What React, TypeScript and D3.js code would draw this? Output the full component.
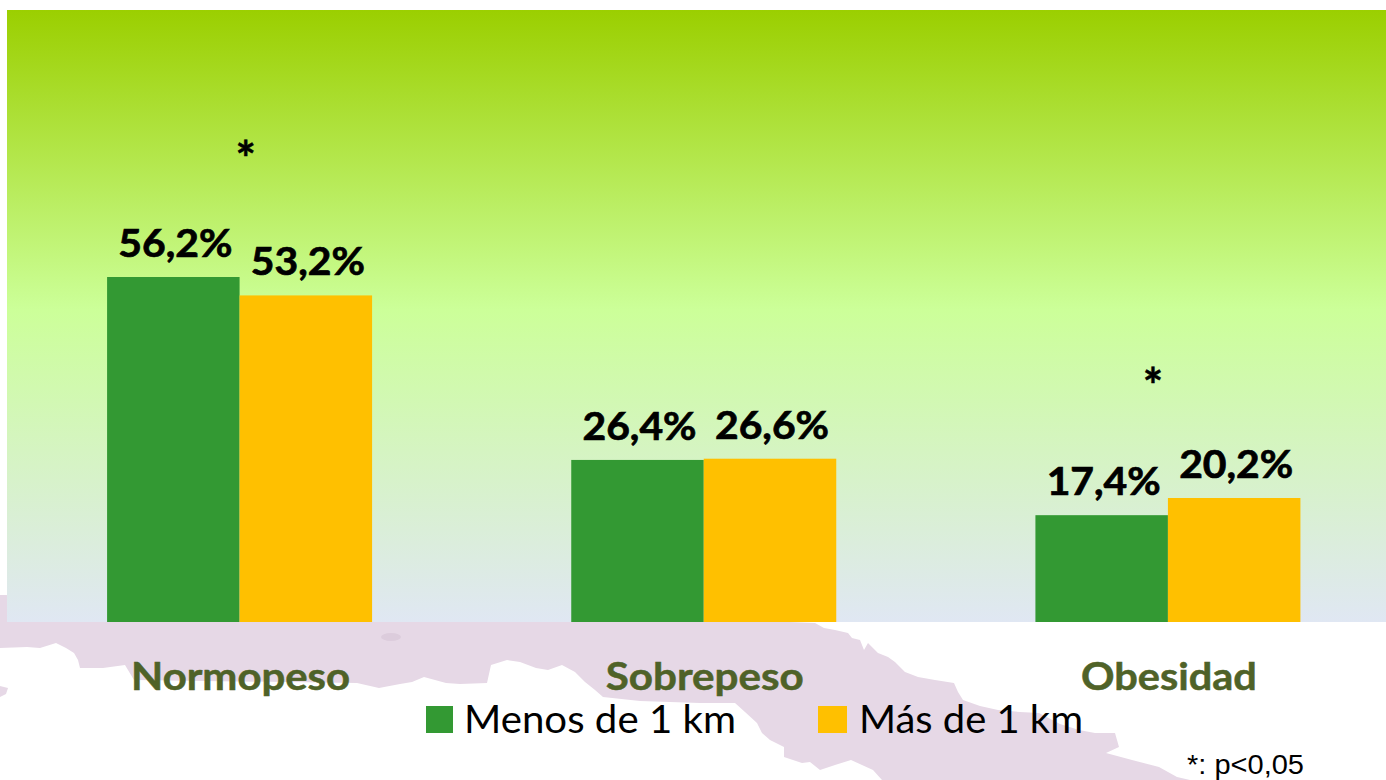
import React from "react";
import * as d3 from "d3";

const categories = ["Normopeso", "Sobrepeso", "Obesidad"];
const seriesNames = ["Menos de 1 km", "Más de 1 km"];
const menosDe1Km = [56.2, 26.4, 17.4];
const masDe1Km = [53.2, 26.6, 20.2];
const significant = [true, false, true];
const seriesColors = ["#339933", "#FFC000"];

const W = 1386;
const H = 780;
const baseY = 622;
const font = "Lato, Carlito, Calibri, sans-serif";

// Decorative map silhouette behind the chart (background artwork, not data)
const mapOutline: [number, number][] = [
  [0, 595], [771, 600], [771, 622], [790, 622], [815, 623], [824, 628], [835, 630], [848, 633], [852, 638], [860, 640], [864, 650], [868, 643], [878, 653],
  [888, 657], [895, 662], [905, 672], [918, 677], [935, 680], [954, 683], [958, 692], [963, 700], [980, 706], [998, 710], [1020, 712], [1039, 713],
  [1060, 724], [1079, 730], [1095, 733], [1115, 733], [1119, 747], [1106, 753], [1132, 760], [1159, 767], [1177, 777], [1190, 780],
  [882, 780], [873, 770], [851, 760], [835, 765], [820, 770], [810, 762], [802, 763], [784, 757], [784, 747], [770, 740], [762, 733], [757, 723], [745, 712], [735, 703],
  [700, 703], [640, 701], [603, 697], [595, 690], [585, 682], [575, 672], [562, 665], [548, 670], [536, 668], [520, 662], [507, 660], [491, 665],
  [487, 683], [460, 684], [446, 683], [435, 680], [424, 677], [412, 682], [400, 684], [379, 688], [357, 683], [134, 680], [125, 665], [103, 668],
  [80, 668], [78, 660], [74, 653], [66, 648], [56, 643], [40, 648], [27, 647], [0, 648],
];
const mapIslet: [number, number][] = [[0, 686], [8, 688], [6, 694], [0, 697]];

export default function App() {
  const x0 = d3.scaleBand<string>().domain(categories).range([7.5, 1400]).paddingInner(0).paddingOuter(0);
  const groupW = 265;
  const x1 = d3.scaleBand<number>().domain([0, 1]).range([0, groupW]);
  const y = d3.scaleLinear().domain([0, 56.2]).range([baseY, 277]);
  const line = d3.line();
  const values = [menosDe1Km, masDe1Km];
  const fmt = (v: number) => v.toFixed(1).replace(".", ",") + "%";
  const groupX = (c: string) => (x0(c) as number) + (x0.bandwidth() - groupW) / 2;
  const catWidths = [219, 198, 176];
  const legendX = [426, 818];
  const legendSw = [27, 29];
  const legendTextX = [464, 859];
  const legendTextW = [272, 224];
  const starDx = [6, 0, -15];
  const starDy = [101, 0, 95];

  return (
    <svg width={W} height={H} viewBox={`0 0 ${W} ${H}`} style={{ position: "absolute", left: 0, top: 0, display: "block", background: "#fff" }}>
      <defs>
        <linearGradient id="bg" x1="0" y1="0" x2="0" y2="1">
          <stop offset="0" stopColor="#9BCF00" />
          <stop offset="0.49" stopColor="#CCFF99" />
          <stop offset="1" stopColor="#E0E7F3" />
        </linearGradient>
      </defs>
      <path d={(line(mapOutline) as string) + "Z"} fill="#E6D8E6" />
      <path d={(line(mapIslet) as string) + "Z"} fill="#E6D8E6" />
      <ellipse cx={391} cy={637} rx={10} ry={4} fill="#DCCCDC" />
      <rect x={7} y={10} width={W - 7} height={baseY - 10} fill="url(#bg)" />

      {categories.map((c, i) => (
        <g key={c}>
          {values.map((vals, s) => {
            const bx = groupX(c) + (x1(s) as number);
            return (
              <g key={s}>
                <rect x={bx} y={y(vals[i])} width={x1.bandwidth()} height={baseY - y(vals[i])} fill={seriesColors[s]} />
                <text x={bx + x1.bandwidth() / 2 + 2} y={y(vals[i]) - 20} textAnchor="middle" textLength={114} lengthAdjust="spacingAndGlyphs"
                  fontFamily={font} fontWeight={700} fontSize={38} fill="#000" stroke="#000" strokeWidth={0.7}>{fmt(vals[i])}</text>
              </g>
            );
          })}
          {significant[i] && (
            <text x={groupX(c) + groupW / 2 + starDx[i]} y={y(Math.max(menosDe1Km[i], masDe1Km[i])) - starDy[i]} textAnchor="middle"
              fontFamily={font} fontWeight={700} fontSize={48} fill="#000" stroke="#000" strokeWidth={0.5}>*</text>
          )}
          <text x={groupX(c) + groupW / 2 + 1} y={690} textAnchor="middle" textLength={catWidths[i]} lengthAdjust="spacingAndGlyphs"
            fontFamily={font} fontWeight={700} fontSize={38} fill="#4F6228" stroke="#4F6228" strokeWidth={0.5}>{c}</text>
        </g>
      ))}

      {seriesNames.map((n, s) => (
        <g key={n}>
          <rect x={legendX[s]} y={706} width={legendSw[s]} height={27} fill={seriesColors[s]} />
          <text x={legendTextX[s]} y={733} textLength={legendTextW[s]} lengthAdjust="spacingAndGlyphs"
            fontFamily={font} fontSize={38} fill="#000">{n}</text>
        </g>
      ))}
      <text x={1187} y={774} textLength={117} lengthAdjust="spacingAndGlyphs" fontFamily="'Liberation Sans', Arial, sans-serif" fontSize={28} fill="#000">*: p&lt;0,05</text>
    </svg>
  );
}
